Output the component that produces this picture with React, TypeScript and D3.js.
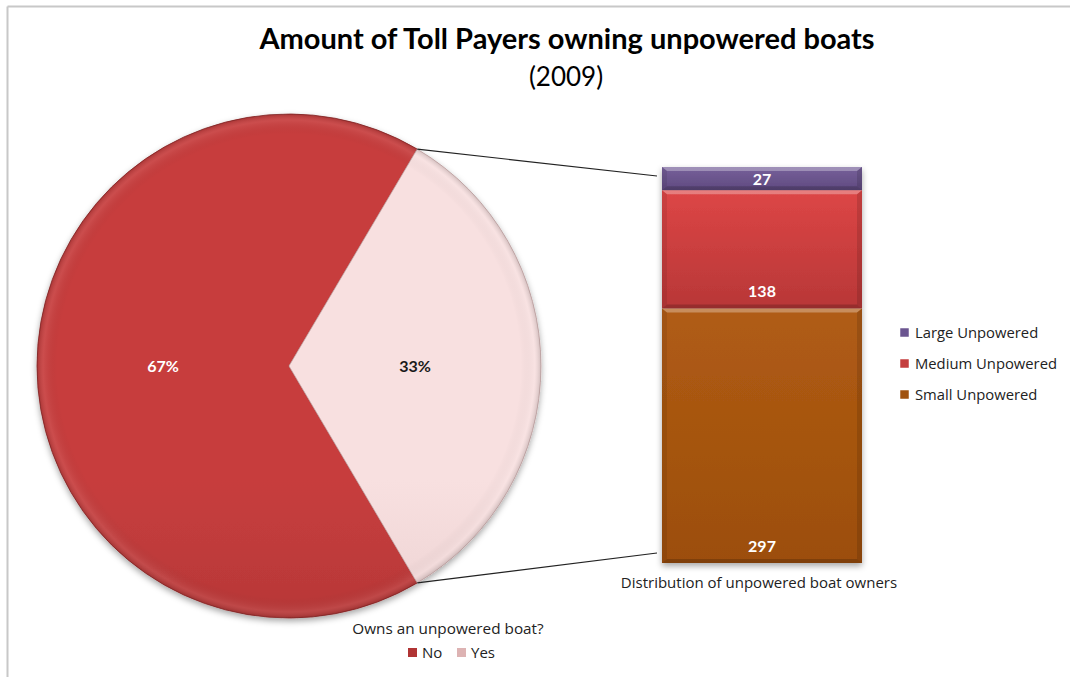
import React from "react";
import * as d3 from "d3";

const pieCategories = ["No", "Yes"];
const pieValues = [67, 33];
const pieLabels = ["67%", "33%"];

const barCategories = ["Small Unpowered", "Medium Unpowered", "Large Unpowered"];
const barValues = [297, 138, 27];

const title = "Amount of Toll Payers owning unpowered boats";
const subtitle = "(2009)";
const pieLegendTitle = "Owns an unpowered boat?";
const barAxisTitle = "Distribution of unpowered boat owners";

const FONT = "Lato, 'Open Sans', sans-serif";
const SMALL = "'Open Sans', Lato, sans-serif";

const pieColors = [
  { top: "#C73E3E", bottom: "#8F2626", legend: "#B03434" },
  { top: "#F8E0E0", bottom: "#D0B1B1", legend: "#DDB3B3" },
];
const barColors = [
  { top: "#B05C14", bottom: "#9C4E0C", legend: "#A0520F" },
  { top: "#DD4646", bottom: "#B83737", legend: "#C43D3D" },
  { top: "#76609A", bottom: "#604A80", legend: "#6B5590" },
];

export default function App() {
  const W = 1070;
  const H = 677;
  const cx = 289;
  const cy = 366;
  const R = 252;

  const yesFrac = pieValues[1] / d3.sum(pieValues);
  const start = Math.PI / 2 + yesFrac * Math.PI;
  const pieGen = d3
    .pie<number>()
    .sort(null)
    .startAngle(start)
    .endAngle(start + 2 * Math.PI);
  const arcs = pieGen(pieValues);
  const arcGen = d3.arc<d3.PieArcDatum<number>>().innerRadius(0).outerRadius(R);

  const total = d3.sum(barValues);
  const y = d3.scaleLinear().domain([0, total]).range([563, 167]);
  const x = d3.scaleBand().domain(["bar"]).range([662, 862]).padding(0);
  const bx = x("bar") as number;
  const bw = x.bandwidth();
  const stacked = barValues.map((v, i) => {
    const y0 = d3.sum(barValues.slice(0, i));
    return { v, y0, y1: y0 + v, i };
  });

  const yesArc = arcs[1];
  const pt = (a: number) => [cx + R * Math.sin(a), cy - R * Math.cos(a)];
  const pTop = pt(yesArc.startAngle);
  const pBot = pt(yesArc.endAngle);

  const labelPos = (i: number) => {
    const s = stacked[i];
    if (i === 2) return (y(s.y0) + y(s.y1)) / 2 + 6;
    return y(s.y0) - 11;
  };

  return (
    <svg
      width={W}
      height={H}
      style={{ position: "absolute", left: 0, top: 0, background: "#fff" }}
      fontFamily={FONT}
    >
      <defs>
        {pieColors.map((c, i) => (
          <linearGradient
            key={i}
            id={`pg${i}`}
            gradientUnits="userSpaceOnUse"
            x1={0}
            y1={cy - R}
            x2={0}
            y2={cy + R}
          >
            <stop offset="0" stopColor={c.top} />
            <stop offset="1" stopColor={c.bottom} />
          </linearGradient>
        ))}
        <radialGradient id="rim" gradientUnits="userSpaceOnUse" cx={cx} cy={cy} r={R}>
          <stop offset="0.92" stopColor="#000" stopOpacity={0} />
          <stop offset="0.975" stopColor="#fff" stopOpacity={0.08} />
          <stop offset="1" stopColor="#000" stopOpacity={0.15} />
        </radialGradient>
        {barColors.map((c, i) => (
          <linearGradient key={i} id={`bg${i}`} x1="0" y1="0" x2="0" y2="1">
            <stop offset="0" stopColor={c.top} />
            <stop offset="1" stopColor={c.bottom} />
          </linearGradient>
        ))}
        <filter id="shadow" x="-10%" y="-10%" width="120%" height="125%">
          <feDropShadow dx="0" dy="3" stdDeviation="3" floodColor="#000" floodOpacity="0.35" />
        </filter>
      </defs>

      <line x1={7.5} y1={6.5} x2={W} y2={6.5} stroke="#c8c8c8" strokeWidth={2} />
      <line x1={7.5} y1={6.5} x2={7.5} y2={H} stroke="#c8c8c8" strokeWidth={2} />

      <text x={567} y={49} textAnchor="middle" fontSize={29} fontWeight={700} fill="#000">
        {title}
      </text>
      <text x={566} y={86} textAnchor="middle" fontSize={26} fill="#000">
        {subtitle}
      </text>

      <g filter="url(#shadow)">
        {arcs.map((a, i) => (
          <path
            key={i}
            d={arcGen(a) as string}
            transform={`translate(${cx},${cy})`}
            fill={`url(#pg${i})`}
            stroke={i === 1 ? "#c9a8a8" : "#8a2626"}
            strokeWidth={0.8}
          />
        ))}
      </g>
      <circle cx={cx} cy={cy} r={R} fill="url(#rim)" pointerEvents="none" />
      {arcs.map((a, i) => {
        const [lx, ly] = arcGen.centroid(a);
        return (
          <text
            key={i}
            x={cx + lx}
            y={cy + ly + 6}
            textAnchor="middle"
            fontSize={16}
            fontWeight={700}
            fill={i === 0 ? "#fff" : "#1a1a1a"}
          >
            {pieLabels[i]}
          </text>
        );
      })}

      <line x1={pTop[0]} y1={pTop[1]} x2={bx - 5} y2={y(total) + 9} stroke="#222" strokeWidth={1.2} />
      <line x1={pBot[0]} y1={pBot[1]} x2={bx - 5} y2={y(0) - 10} stroke="#222" strokeWidth={1.2} />

      <g filter="url(#shadow)">
        {stacked.map((s) => (
          <rect
            key={s.i}
            x={bx}
            y={y(s.y1)}
            width={bw}
            height={y(s.y0) - y(s.y1)}
            fill={`url(#bg${s.i})`}
          />
        ))}
      </g>
      {stacked.map((s) => {
        const top = y(s.y1);
        const bot = y(s.y0);
        return (
          <g key={`b${s.i}`} pointerEvents="none">
            <path
              d={`M${bx},${top} L${bx + bw},${top} L${bx + bw - 5},${top + 4} L${bx + 5},${top + 4} Z`}
              fill="#fff"
              opacity={0.3}
            />
            <path
              d={`M${bx},${bot} L${bx + bw},${bot} L${bx + bw - 5},${bot - 4} L${bx + 5},${bot - 4} Z`}
              fill="#000"
              opacity={0.18}
            />
            <path
              d={`M${bx},${top} L${bx + 5},${top + 4} L${bx + 5},${bot - 4} L${bx},${bot} Z`}
              fill="#000"
              opacity={0.08}
            />
            <path
              d={`M${bx + bw},${top} L${bx + bw - 5},${top + 4} L${bx + bw - 5},${bot - 4} L${bx + bw},${bot} Z`}
              fill="#000"
              opacity={0.12}
            />
          </g>
        );
      })}
      {stacked.map((s) => (
        <text
          key={`l${s.i}`}
          x={bx + bw / 2}
          y={labelPos(s.i)}
          textAnchor="middle"
          fontSize={16}
          fontWeight={700}
          fill="#fff"
        >
          {s.v}
        </text>
      ))}
      <text x={759} y={588} textAnchor="middle" fontSize={15} fill="#222" fontFamily={SMALL}>
        {barAxisTitle}
      </text>

      {[2, 1, 0].map((idx, k) => (
        <g key={idx} transform={`translate(900,${328 + k * 31})`}>
          <rect width={9} height={9} fill={barColors[idx].legend} stroke="#fff" strokeWidth={0.5} />
          <text x={15} y={10} fontSize={14.8} fill="#222" fontFamily={SMALL}>
            {barCategories[idx]}
          </text>
        </g>
      ))}

      <text x={448} y={634} textAnchor="middle" fontSize={15.3} fill="#222" fontFamily={SMALL}>
        {pieLegendTitle}
      </text>
      {pieCategories.map((c, i) => (
        <g key={c} transform={`translate(${408 + i * 49},648)`}>
          <rect width={9} height={9} fill={pieColors[i].legend} />
          <text x={14} y={10} fontSize={15} fill="#222" fontFamily={SMALL}>
            {c}
          </text>
        </g>
      ))}
    </svg>
  );
}
